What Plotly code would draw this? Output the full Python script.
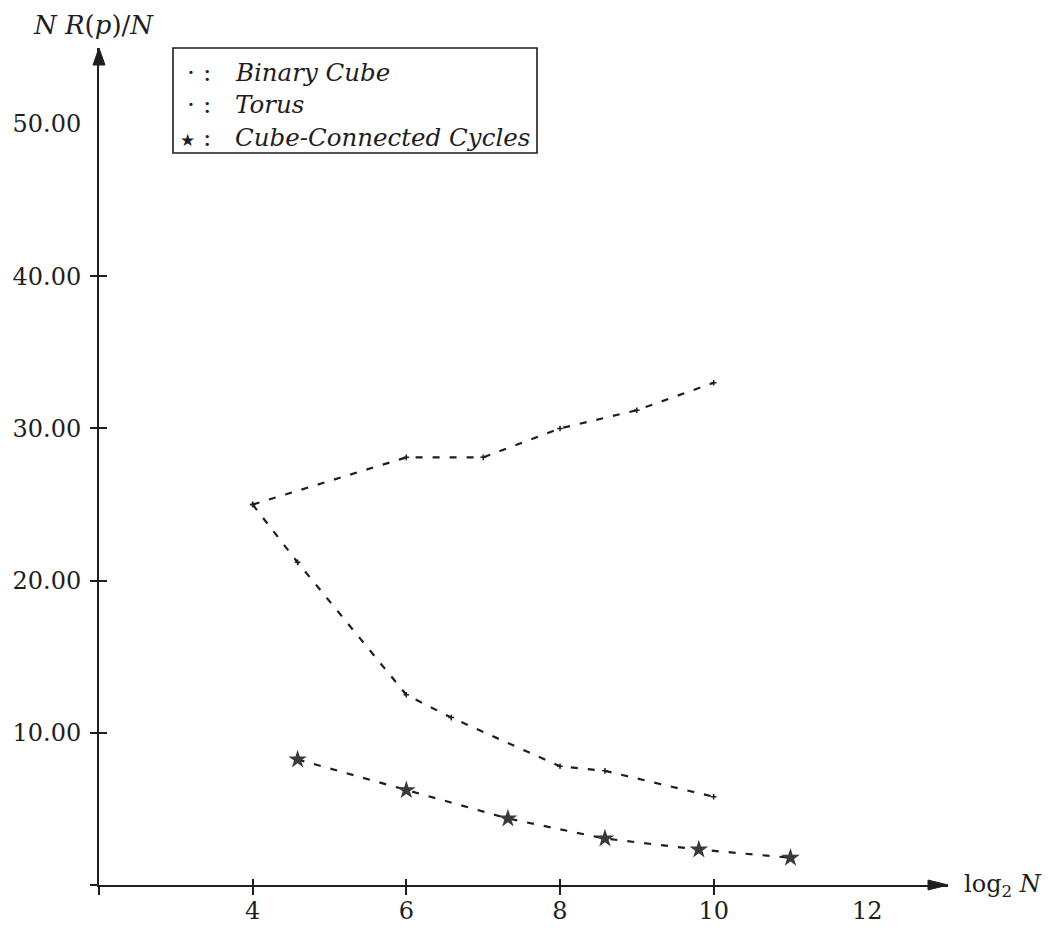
import plotly.graph_objects as go

# Normalised cost NR(p)/N against log2 N for three interconnection networks
series_names = ["Binary Cube", "Torus", "Cube-Connected Cycles"]
series_keys = ["·", "·", "★"]

cube_x = [4, 4.585, 6, 6.585, 8, 8.585, 10]
cube_y = [25.0, 21.2, 12.5, 11.0, 7.8, 7.5, 5.8]

torus_x = [4, 6, 7, 8, 9, 10]
torus_y = [25.0, 28.1, 28.1, 30.0, 31.2, 33.0]

ccc_x = [4.585, 6, 7.322, 8.585, 9.807, 11]
ccc_y = [8.25, 6.23, 4.37, 3.05, 2.33, 1.79]

x_label_vals = [4, 6, 8, 10, 12]
x_mark_vals = [2, 4, 6, 8, 10]
y_label_vals = [10, 20, 30, 40, 50]
y_mark_vals = [0, 10, 20, 30, 40]

X_RANGE = [2, 13.05]
Y_RANGE = [0, 55]

FONT = "DejaVu Serif"
INK = "#1e1e1e"
DASH = "7px,10px"

fig = go.Figure()

for xs, ys, name in [(cube_x, cube_y, series_names[0]), (torus_x, torus_y, series_names[1])]:
    fig.add_trace(go.Scatter(
        x=xs, y=ys, name=name, mode="lines+markers",
        line=dict(color=INK, width=2.2, dash=DASH),
        marker=dict(symbol="cross-thin-open", size=4, line=dict(color=INK, width=1.5)),
    ))

fig.add_trace(go.Scatter(
    x=ccc_x, y=ccc_y, name=series_names[2], mode="lines+markers",
    line=dict(color=INK, width=2.2, dash=DASH),
    marker=dict(symbol="star", size=14, color="#3a3a3a", line=dict(width=0)),
))

# empty traces that carry the overlaid tick axes (inside / outside halves of the ticks)
for ax in ("2", "3"):
    fig.add_trace(go.Scatter(x=[], y=[], xaxis="x" + ax, yaxis="y" + ax,
                             showlegend=False, hoverinfo="skip"))

shapes = [
    # arrowheads at the ends of the axes
    dict(type="path", xref="paper", yref="paper",
         xsizemode="pixel", ysizemode="pixel", xanchor=1, yanchor=0,
         path="M 0,0 L -20,5 L -20,-5 Z", fillcolor=INK, line=dict(color=INK, width=1)),
    dict(type="path", xref="paper", yref="paper",
         xsizemode="pixel", ysizemode="pixel", xanchor=0, yanchor=1,
         path="M 0,0 L -6,-17 L 6,-17 Z", fillcolor=INK, line=dict(color=INK, width=1)),
    # legend frame, hung from the top-left corner of the plot area
    dict(type="path", xref="paper", yref="paper",
         xsizemode="pixel", ysizemode="pixel", xanchor=0, yanchor=1,
         path="M 74,0 L 438,0 L 438,-105 L 74,-105 Z",
         fillcolor="white", line=dict(color=INK, width=1.6)),
]

annotations = []
row_offsets = [-24, -56, -89]
for key, name, dy in zip(series_keys, series_names, row_offsets):
    key_size = 17 if key == "★" else 25
    annotations.append(dict(
        text="<span style='font-size:%dpx'>%s</span>&nbsp;:" % (key_size, key),
        xref="paper", yref="paper", x=0, y=1, xshift=114, yshift=dy,
        xanchor="right", yanchor="middle", showarrow=False,
        font=dict(family=FONT, size=25, color=INK)))
    annotations.append(dict(
        text="<i>%s</i>" % name,
        xref="paper", yref="paper", x=0, y=1, xshift=134, yshift=dy,
        xanchor="left", yanchor="middle", showarrow=False,
        font=dict(family=FONT, size=24.5, color=INK)))

annotations += [
    dict(text="<i>N R</i>(<i>p</i>)/<i>N</i>", xref="paper", yref="paper",
         x=0, y=1, xanchor="center", yanchor="bottom", xshift=-6, yshift=6, showarrow=False,
         font=dict(family=FONT, size=26, color=INK)),
    dict(text="log<sub>2</sub> <i>N</i>", xref="paper", yref="paper",
         x=1, y=0, xanchor="left", yanchor="middle", xshift=14, showarrow=False,
         font=dict(family=FONT, size=24, color=INK)),
]

plain = dict(showgrid=False, zeroline=False, automargin=False)


def tick_axis(rng, vals, direction, length, **extra):
    return dict(range=rng, tickvals=vals, ticks=direction, ticklen=length, tickwidth=1.6,
                tickcolor=INK, showticklabels=False, showline=False, **plain, **extra)


fig.update_layout(
    width=1053, height=928,
    margin=dict(l=99, r=105, t=48, b=43),
    paper_bgcolor="white", plot_bgcolor="white",
    showlegend=False,
    shapes=shapes,
    annotations=annotations,
    font=dict(family=FONT, size=24, color=INK),
    xaxis=dict(range=X_RANGE, tickvals=x_label_vals, ticktext=[str(v) for v in x_label_vals],
               showline=True, linecolor=INK, linewidth=2, ticks="", ticklabelstandoff=3,
               tickfont=dict(family=FONT, size=24, color=INK), **plain),
    yaxis=dict(range=Y_RANGE, tickvals=y_label_vals, ticktext=["%.2f" % v for v in y_label_vals],
               showline=True, linecolor=INK, linewidth=2, ticks="", ticklabelstandoff=11,
               tickfont=dict(family=FONT, size=24, color=INK), **plain),
    xaxis2=tick_axis(X_RANGE, x_mark_vals, "inside", 6, overlaying="x", anchor="y2", side="bottom"),
    yaxis2=tick_axis(Y_RANGE, y_mark_vals, "inside", 8, overlaying="y", anchor="x2", side="left"),
    xaxis3=tick_axis(X_RANGE, x_mark_vals, "outside", 9, overlaying="x", anchor="y3", side="bottom"),
    yaxis3=tick_axis(Y_RANGE, y_mark_vals, "outside", 8, overlaying="y", anchor="x3", side="left"),
)

fig.write_html("out.html")
